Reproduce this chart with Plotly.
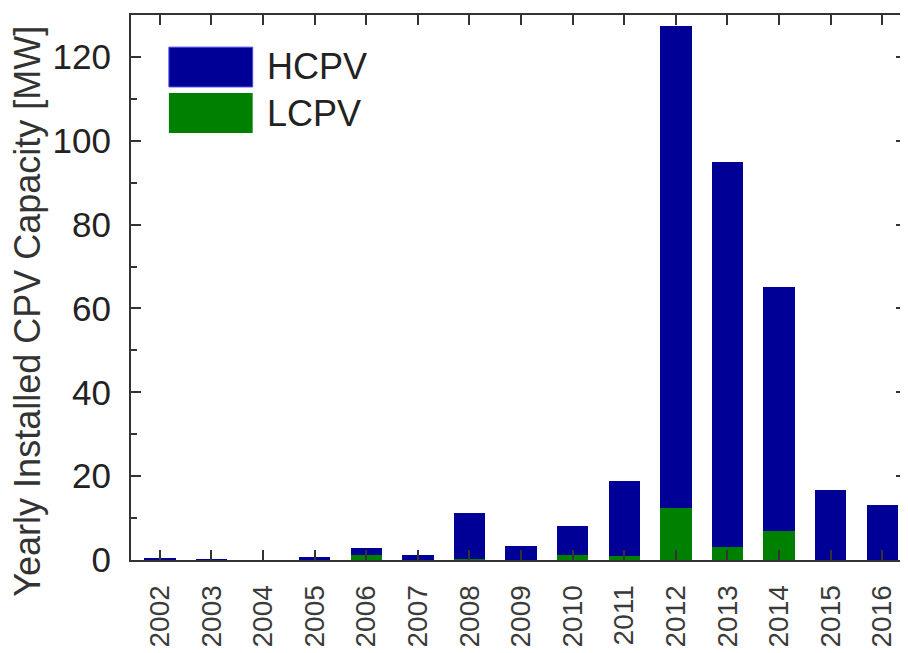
import plotly.graph_objects as go

years = ["2002", "2003", "2004", "2005", "2006", "2007", "2008", "2009",
         "2010", "2011", "2012", "2013", "2014", "2015", "2016"]
lcpv = [0.0, 0.0, 0.0, 0.0, 1.2, 0.0, 0.2, 0.0, 1.3, 1.0, 12.5, 3.0, 7.0, 0.0, 0.0]
hcpv = [0.4, 0.15, 0.0, 0.8, 1.6, 1.2, 11.0, 3.3, 6.8, 17.8, 114.8, 92.0, 58.2, 16.8, 13.2]

BLUE = "rgb(0,0,150)"
GREEN = "rgb(0,128,0)"
AXC = "#333333"
FONT = "Liberation Sans, Arial, sans-serif"

fig = go.Figure()
fig.add_trace(go.Bar(x=years, y=lcpv, name="LCPV", marker=dict(color=GREEN, line=dict(width=0))))
fig.add_trace(go.Bar(x=years, y=hcpv, name="HCPV", marker=dict(color=BLUE, line=dict(width=0))))

fig.update_layout(
    width=900, height=645,
    margin=dict(l=123, r=0, t=7, b=93),
    barmode="stack", bargap=0.39,
    plot_bgcolor="white", paper_bgcolor="white",
    showlegend=False,
    font=dict(family=FONT, color="#222222"),
)
fig.update_xaxes(
    type="category", range=[-0.56, 14.46],
    showline=True, linecolor=AXC, linewidth=2, mirror="ticks",
    ticks="inside", ticklen=10, tickwidth=2, tickcolor=AXC,
    tickangle=-90, tickfont=dict(size=28, color="#3a3a3a", family=FONT),
    ticklabelstandoff=12, showgrid=False,
)
fig.update_yaxes(
    range=[0, 130], tickvals=[0, 20, 40, 60, 80, 100, 120],
    showline=True, linecolor=AXC, linewidth=2, mirror="ticks",
    ticks="inside", ticklen=10, tickwidth=2, tickcolor=AXC,
    minor=dict(tickvals=[10, 30, 50, 70, 90, 110], ticks="inside", ticklen=6, tickwidth=2, tickcolor=AXC),
    tickfont=dict(size=35, color="#222222", family=FONT),
    ticklabelstandoff=11, showgrid=False, zeroline=False,
)

# y-axis title (placed as in the reference, lower than the axis centre)
fig.add_annotation(xref="paper", yref="paper", x=-0.134, y=0.456,
                   text="Yearly Installed CPV Capacity [MW]", textangle=-90, showarrow=False,
                   xanchor="center", yanchor="middle",
                   font=dict(size=36, color="#333333", family=FONT))

# legend drawn manually (large swatches)
fig.add_shape(type="rect", xref="paper", yref="paper", x0=0.0489, x1=0.157, y0=0.868, y1=0.941,
              fillcolor=BLUE, line=dict(color="rgb(70,70,230)", width=1))
fig.add_shape(type="rect", xref="paper", yref="paper", x0=0.0489, x1=0.157, y0=0.7835, y1=0.857,
              fillcolor=GREEN, line=dict(width=0))
fig.add_annotation(xref="paper", yref="paper", x=0.1725, y=0.9046, text="HCPV", showarrow=False,
                   xanchor="left", yanchor="middle", font=dict(size=36, color="#222222", family=FONT))
fig.add_annotation(xref="paper", yref="paper", x=0.1725, y=0.820, text="LCPV", showarrow=False,
                   xanchor="left", yanchor="middle", font=dict(size=36, color="#222222", family=FONT))

fig.write_html("out.html", config={"displayModeBar": False})
